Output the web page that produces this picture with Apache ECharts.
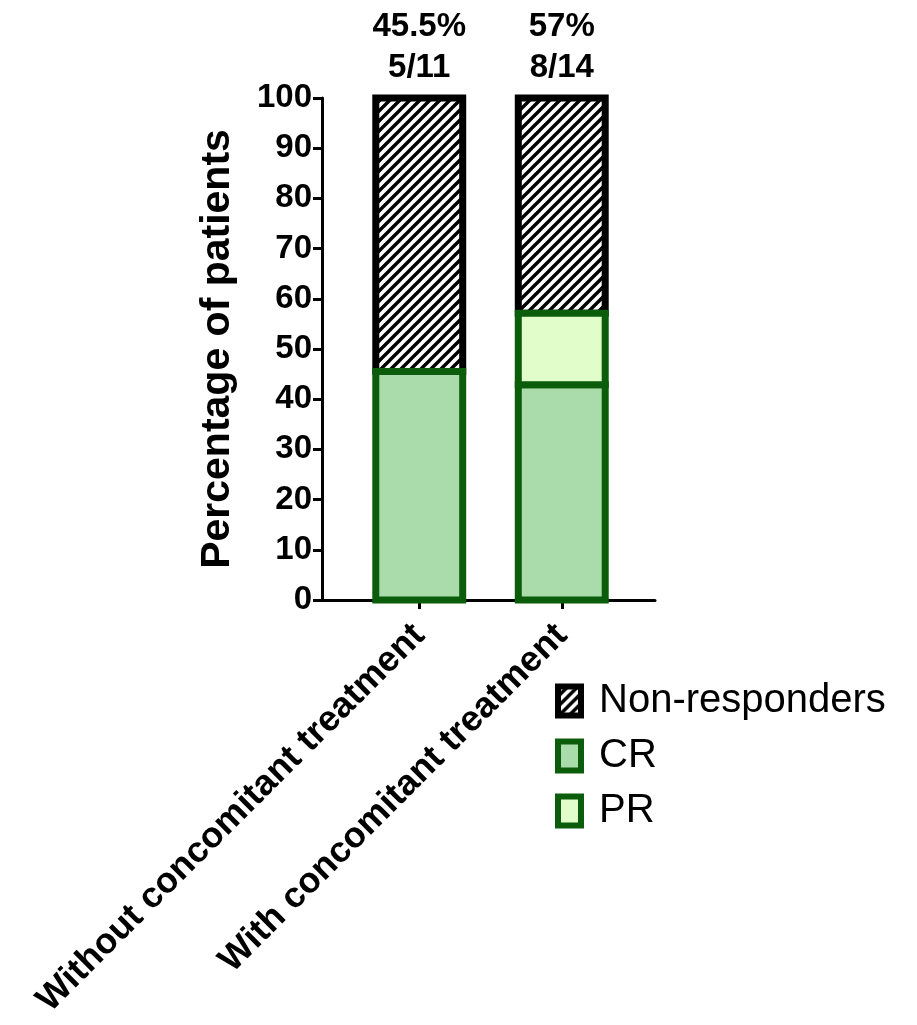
<!DOCTYPE html>
<html>
<head>
<meta charset="utf-8">
<script src="https://cdn.jsdelivr.net/npm/echarts@6/dist/echarts.min.js"></script>
<style>
  html, body { margin: 0; padding: 0; background: #fff; }
  #chart { width: 917px; height: 1025px; }
</style>
</head>
<body>
<div id="chart"></div>
<script>
// 数据
const categories = ['Without concomitant treatment', 'With concomitant treatment']
const crValues = [45.5, 42.9]
const prValues = [0, 14.2]
const nonRespValues = [54.5, 42.9]
const pctLabels = ['45.5%', '57%']
const fracLabels = ['5/11', '8/14']
const yTicks = [0, 100, 10] // min, max, interval

const FONT = 'Arial, "Liberation Sans", sans-serif'
const GREEN = '#0b5c0b'
const BORDER = 7

// 斜线填充
const makeHatch = () => {
  const c = document.createElement('canvas')
  c.width = 10
  c.height = 10
  const ctx = c.getContext('2d')
  ctx.fillStyle = '#fff'
  ctx.fillRect(0, 0, 10, 10)
  ctx.strokeStyle = '#000'
  ctx.lineWidth = 3.4
  ctx.lineCap = 'square'
  ctx.beginPath()
  ctx.moveTo(-2, 12); ctx.lineTo(12, -2)
  ctx.moveTo(-7, 7); ctx.lineTo(7, -7)
  ctx.moveTo(3, 17); ctx.lineTo(17, 3)
  ctx.stroke()
  return c
}
const hatch = { image: makeHatch(), repeat: 'repeat' }

// 堆叠：每段 [类别, 下沿, 上沿]
const stackRows = (values, ...below) =>
  values.map((v, i) => {
    const base = below.reduce((s, arr) => s + arr[i], 0)
    return [i, base, base + v]
  })

// 边框居中绘制的矩形，相邻段共用一条边
const segmentRenderer = (fill, stroke, withLabel) => (params, api) => {
  const i = api.value(0)
  const lo = api.coord([i, api.value(1)])
  const hi = api.coord([i, api.value(2)])
  const w = api.size([1, 0])[0] * 0.61
  const children = [{
    type: 'rect',
    shape: { x: lo[0] - w / 2, y: hi[1], width: w, height: lo[1] - hi[1] },
    style: { fill, stroke, lineWidth: BORDER }
  }]
  if (withLabel) {
    children.push({
      type: 'text',
      x: hi[0],
      y: hi[1] - 10,
      style: {
        text: pctLabels[i] + '\n' + fracLabels[i],
        align: 'center',
        verticalAlign: 'bottom',
        fontSize: 33,
        lineHeight: 41,
        fontWeight: 'bold',
        fontFamily: FONT,
        fill: '#000'
      }
    })
  }
  return { type: 'group', children }
}

const segment = (name, rows, fill, stroke, z, withLabel) => ({
  name,
  type: 'custom',
  xAxisIndex: 1,
  yAxisIndex: 1,
  z,
  itemStyle: { color: fill, borderColor: stroke, borderWidth: BORDER },
  encode: { x: 0, y: [1, 2] },
  renderItem: segmentRenderer(fill, stroke, withLabel),
  data: rows
})

const chart = echarts.init(document.getElementById('chart'))
chart.setOption({
  animation: false,
  backgroundColor: '#fff',
  grid: [
    { left: 322, right: 262, top: 98, bottom: 425, outerBoundsMode: 'none' },
    { left: 348, right: 284, top: 98, bottom: 425, outerBoundsMode: 'none' }
  ],
  legend: {
    orient: 'vertical',
    left: 550,
    top: 676,
    icon: 'rect',
    itemWidth: 23,
    itemHeight: 29,
    itemGap: 15,
    data: ['Non-responders', 'CR', 'PR'],
    itemStyle: { borderWidth: 6 },
    textStyle: { fontSize: 40, color: '#000', fontFamily: FONT, padding: [0, 0, 0, 13] }
  },
  xAxis: [
    {
      type: 'value',
      gridIndex: 0,
      axisLine: { show: true, lineStyle: { color: '#000', width: 3 } },
      axisTick: { show: false },
      axisLabel: { show: false },
      splitLine: { show: false }
    },
    {
      type: 'category',
      gridIndex: 1,
      data: categories,
      axisLine: { show: false },
      axisTick: { show: true, alignWithLabel: true, length: 9, lineStyle: { color: '#000', width: 3 } },
      axisLabel: {
        interval: 0,
        rotate: 45,
        margin: 30,
        fontSize: 36,
        fontWeight: 'bold',
        color: '#000',
        fontFamily: FONT
      }
    }
  ],
  yAxis: [
    {
      type: 'value',
      gridIndex: 0,
      min: yTicks[0],
      max: yTicks[1],
      interval: yTicks[2],
      name: 'Percentage of patients',
      nameLocation: 'middle',
      nameGap: 84,
      nameTextStyle: { fontSize: 41, fontWeight: 'bold', color: '#000', fontFamily: FONT },
      axisLine: { show: true, lineStyle: { color: '#000', width: 3 } },
      axisTick: { show: true, length: 9, lineStyle: { color: '#000', width: 3 } },
      axisLabel: { fontSize: 33, fontWeight: 'bold', color: '#000', margin: 10, fontFamily: FONT },
      splitLine: { show: false }
    },
    {
      type: 'value',
      gridIndex: 1,
      min: yTicks[0],
      max: yTicks[1],
      interval: yTicks[2],
      show: false
    }
  ],
  series: [
    segment('CR', stackRows(crValues), '#a9dcaa', GREEN, 3, false),
    segment('PR', stackRows(prValues, crValues), '#e1fdca', GREEN, 3, false),
    segment('Non-responders', stackRows(nonRespValues, crValues, prValues), hatch, '#000', 2, true)
  ]
})
</script>
</body>
</html>
